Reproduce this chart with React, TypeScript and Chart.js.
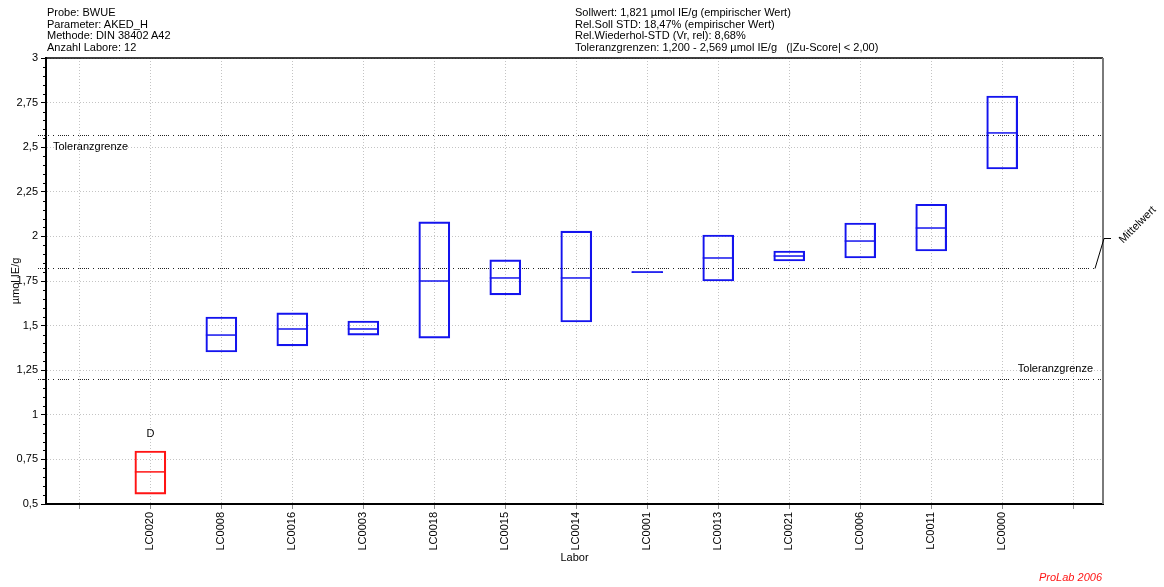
import React, { useEffect, useRef } from 'react';
import { Chart, registerables } from 'chart.js';

Chart.register(...registerables);

const FONT = "'Liberation Sans', Arial, Helvetica, sans-serif";

// Laboratories in plotted order (positions 1..13 on the x axis)
const laboratories = [
  'LC0020', 'LC0008', 'LC0016', 'LC0003', 'LC0018', 'LC0015', 'LC0014',
  'LC0001', 'LC0013', 'LC0021', 'LC0006', 'LC0011', 'LC0000',
];
// Lower / upper end of each laboratory's box and its middle value (µmol IE/g)
const lowValues = [0.555, 1.352, 1.386, 1.447, 1.43, 1.672, 1.52, 1.797, 1.75, 1.862, 1.879, 1.918, 2.378];
const highValues = [0.797, 1.548, 1.571, 1.526, 2.081, 1.868, 2.03, 1.803, 2.008, 1.918, 2.075, 2.18, 2.787];
const medianValues = [0.68, 1.447, 1.481, 1.481, 1.75, 1.767, 1.767, 1.8, 1.879, 1.89, 1.974, 2.047, 2.58];
// Outlier flags per laboratory
const flags = ['D', '', '', '', '', '', '', '', '', '', '', '', ''];

const assignedValue = 1.821;
const lowerLimit = 1.2;
const upperLimit = 2.569;

const yMin = 0.5;
const yMax = 3;
const yStep = 0.25;

const headerLeft = [
  'Probe: BWUE',
  'Parameter: AKED_H',
  'Methode: DIN 38402 A42',
  'Anzahl Labore: 12',
];
const headerRight = [
  'Sollwert: 1,821 µmol IE/g (empirischer Wert)',
  'Rel.Soll STD: 18,47% (empirischer Wert)',
  'Rel.Wiederhol-STD (Vr, rel): 8,68%',
  'Toleranzgrenzen: 1,200 - 2,569 µmol IE/g   (|Zu-Score| < 2,00)',
];

const BLUE = '#1414ee';
const RED = '#ff1414';
const colorOf = (i: number) => (flags[i] ? RED : BLUE);

// dotted run, gap, single dot, gap
const LIMIT_DASH = [1, 1, 1, 1, 1, 1, 1, 1, 1, 1, 1, 4, 1, 4];

const limitLines = {
  id: 'limitLines',
  beforeDatasetsDraw(chart: any) {
    const { ctx, chartArea: a, scales } = chart;
    const y = scales.y;
    ctx.save();
    // minor ticks on the value axis
    ctx.strokeStyle = '#000';
    ctx.lineWidth = 1;
    ctx.beginPath();
    for (let i = Math.round(yMin * 20) + 1; i < Math.round(yMax * 20); i++) {
      if (i % 5 === 0) continue;
      const py = Math.round(y.getPixelForValue(i / 20)) + 0.5;
      ctx.moveTo(a.left - 3, py);
      ctx.lineTo(a.left, py);
    }
    ctx.stroke();

    // tolerance limits and assigned value
    ctx.strokeStyle = '#222';
    ctx.lineWidth = 1;
    ctx.setLineDash(LIMIT_DASH);
    const hline = (v: number, x0: number, x1: number) => {
      const py = Math.round(y.getPixelForValue(v)) + 0.5;
      ctx.beginPath();
      ctx.moveTo(x0, py);
      ctx.lineTo(x1, py);
      ctx.stroke();
    };
    hline(upperLimit, a.left - 8, a.right);
    hline(assignedValue, a.left - 8, a.right - 8);
    hline(lowerLimit, a.left - 8, a.right);
    ctx.restore();
  },
  afterDraw(chart: any) {
    const { ctx, chartArea: a, scales } = chart;
    const x = scales.x;
    const y = scales.y;
    ctx.save();
    // frame: top and right
    ctx.strokeStyle = '#000';
    ctx.lineWidth = 1.5;
    ctx.beginPath();
    ctx.moveTo(a.left, a.top);
    ctx.lineTo(a.right, a.top);
    ctx.stroke();
    ctx.strokeStyle = '#7a7a7a';
    ctx.lineWidth = 2;
    ctx.beginPath();
    ctx.moveTo(a.right, a.top);
    ctx.lineTo(a.right, a.bottom);
    ctx.stroke();

    ctx.fillStyle = '#000';
    ctx.font = `11px ${FONT}`;
    // limit captions
    ctx.textAlign = 'left';
    ctx.textBaseline = 'top';
    ctx.fillText('Toleranzgrenze', a.left + 7, y.getPixelForValue(upperLimit) + 7);
    ctx.textAlign = 'right';
    ctx.textBaseline = 'bottom';
    ctx.fillText('Toleranzgrenze', a.right - 10, y.getPixelForValue(lowerLimit) - 5);

    // assigned value leader and caption
    const ym = Math.round(y.getPixelForValue(assignedValue)) + 0.5;
    ctx.strokeStyle = '#000';
    ctx.lineWidth = 1;
    ctx.beginPath();
    ctx.moveTo(a.right - 8, ym);
    ctx.lineTo(a.right + 1, ym - 30);
    ctx.lineTo(a.right + 8, ym - 30);
    ctx.stroke();
    ctx.save();
    ctx.translate(a.right + 18, ym - 27);
    ctx.rotate(-Math.PI / 4);
    ctx.textAlign = 'left';
    ctx.textBaseline = 'middle';
    ctx.fillText('Mittelwert', 0, 0);
    ctx.restore();

    // outlier flags above the boxes
    ctx.textAlign = 'center';
    ctx.textBaseline = 'middle';
    flags.forEach((f, i) => {
      if (!f) return;
      ctx.fillText(f, x.getPixelForValue(i + 1), y.getPixelForValue(highValues[i]) - 17);
    });
    ctx.restore();
  },
};

export default function App() {
  const canvasRef = useRef<HTMLCanvasElement | null>(null);

  useEffect(() => {
    document.body.style.margin = '0';
    const canvas = canvasRef.current;
    if (!canvas) return;
    const chart = new Chart(canvas, {
      type: 'bar',
      data: {
        datasets: [
          {
            type: 'bar',
            data: laboratories.map((_, i) => ({ x: i + 1, y: [lowValues[i], highValues[i]] })) as any,
            backgroundColor: 'rgba(0,0,0,0)',
            borderColor: laboratories.map((_, i) => colorOf(i)),
            borderWidth: 1.5,
            borderSkipped: false,
            barThickness: 31,
            grouped: false,
          } as any,
          {
            type: 'scatter',
            data: laboratories.map((_, i) => ({ x: i + 1, y: medianValues[i] })),
            pointStyle: 'line',
            pointRadius: 15.5,
            pointBorderWidth: 1.5,
            pointBorderColor: laboratories.map((_, i) => colorOf(i)),
            borderColor: laboratories.map((_, i) => colorOf(i)),
            showLine: false,
          } as any,
        ],
      },
      plugins: [limitLines],
      options: {
        responsive: false,
        animation: false,
        devicePixelRatio: 1,
        layout: { padding: { top: 58, right: 61, left: 0, bottom: 0 } },
        plugins: { legend: { display: false }, tooltip: { enabled: false } },
        scales: {
          x: {
            type: 'linear',
            min: -0.47,
            max: 14.42,
            offset: false,
            afterFit: (s: any) => { s.height = 83; },
            grid: {
              offset: false,
              color: '#c4c4c4',
              lineWidth: 1,
              tickColor: '#8a8a8a',
              tickLength: 5,
            },
            border: { color: '#000', width: 2, dash: [1, 2] },
            ticks: {
              stepSize: 1,
              includeBounds: false,
              autoSkip: false,
              minRotation: 90,
              maxRotation: 90,
              padding: 3,
              color: '#000',
              font: { family: FONT, size: 11 },
              callback: (v: any) => {
                const n = Math.round(Number(v));
                return n >= 1 && n <= laboratories.length ? laboratories[n - 1] : '';
              },
            },
            title: {
              display: true,
              text: 'Labor',
              color: '#000',
              font: { family: FONT, size: 11 },
              padding: { top: 0, bottom: 22 },
            },
          },
          y: {
            type: 'linear',
            min: yMin,
            max: yMax,
            afterFit: (s: any) => { s.width = 46; },
            grid: {
              color: '#c4c4c4',
              lineWidth: 1,
              tickColor: '#000',
              tickLength: 5,
            },
            border: { color: '#000', width: 2, dash: [1, 2] },
            ticks: {
              stepSize: yStep,
              includeBounds: false,
              padding: 3,
              color: '#000',
              font: { family: FONT, size: 11 },
              callback: (v: any) => String(Number(v)).replace('.', ','),
            },
            title: {
              display: true,
              text: 'µmol IE/g',
              color: '#000',
              font: { family: FONT, size: 11 },
              padding: { top: 9, bottom: 0 },
            },
          },
        },
      } as any,
    });
    return () => chart.destroy();
  }, []);

  const textStyle: React.CSSProperties = {
    position: 'absolute',
    top: 7,
    fontFamily: FONT,
    fontSize: 11,
    lineHeight: '11.7px',
    color: '#000',
    whiteSpace: 'pre',
  };

  return (
    <div style={{ position: 'relative', width: 1164, height: 587, background: '#fff' }}>
      <canvas ref={canvasRef} width={1164} height={587} style={{ display: 'block' }} />
      <div style={{ ...textStyle, left: 47 }}>
        {headerLeft.map((t) => (<div key={t}>{t}</div>))}
      </div>
      <div style={{ ...textStyle, left: 575 }}>
        {headerRight.map((t) => (<div key={t}>{t}</div>))}
      </div>
      <div
        style={{
          position: 'absolute',
          right: 62,
          top: 571,
          fontFamily: FONT,
          fontSize: 11,
          fontStyle: 'italic',
          color: RED,
          whiteSpace: 'pre',
        }}
      >
        ProLab 2006
      </div>
    </div>
  );
}
